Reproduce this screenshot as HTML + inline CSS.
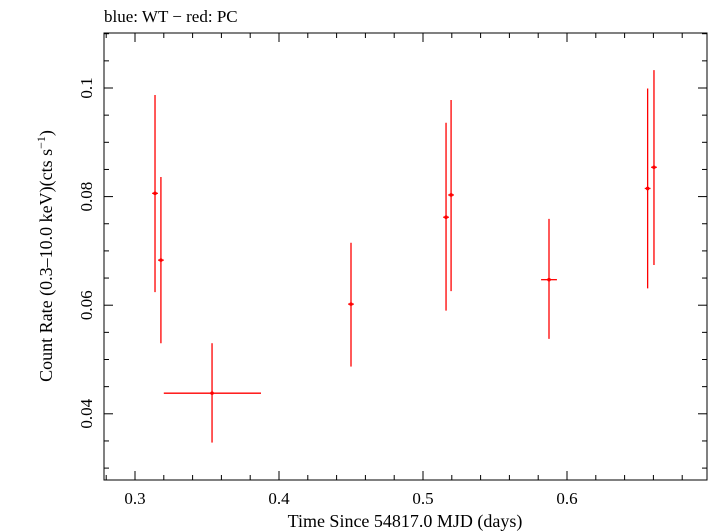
<!DOCTYPE html>
<html><head><meta charset="utf-8"><style>body{margin:0;background:#fff}svg{display:block}</style></head>
<body>
<svg id="c" width="709" height="532" xmlns="http://www.w3.org/2000/svg" font-family="Liberation Serif, serif"></svg>
<script>
const times=[0.3139,0.318,0.3535,0.45,0.516,0.5195,0.5875,0.656,0.6604];
const timeErrLo=[0.002,0.002,0.0335,0.002,0.002,0.002,0.0055,0.002,0.002];
const timeErrHi=[0.002,0.002,0.034,0.002,0.002,0.002,0.0055,0.002,0.002];
const rates=[0.0806,0.0683,0.0438,0.0602,0.0762,0.0803,0.0647,0.0815,0.0854];
const rateHi=[0.0987,0.0836,0.053,0.0715,0.0936,0.0978,0.0759,0.0999,0.1033];
const rateLo=[0.0624,0.053,0.0347,0.0487,0.059,0.0626,0.0538,0.0631,0.0674];
const xTicks=[0.3,0.4,0.5,0.6];
const yTicks=[0.04,0.06,0.08,0.1];
const xTickLabels=["0.3","0.4","0.5","0.6"];
const yTickLabels=["0.04","0.06","0.08","0.1"];
const L=104,R=707,T=33,B=480;
const X=v=>135+(v-0.3)*1440;
const Y=v=>88+(0.1-v)*5430;
const s=document.getElementById('c');const NS="http://www.w3.org/2000/svg";
function mk(t,a,p){const e=document.createElementNS(NS,t);for(const k in a)e.setAttribute(k,a[k]);(p||s).appendChild(e);return e;}
const fr=mk('rect',{x:L,y:T,width:R-L,height:B-T,fill:'none',stroke:'#000','stroke-width':1});

const ax=mk('g',{stroke:'#000','stroke-width':1});

for(let v=0.28;v<=0.7001;v+=0.02){const x=X(v);const big=Math.abs(Math.round(v*10)/10-v)<1e-6;const l=big?9:5;
mk('line',{x1:x,x2:x,y1:B,y2:B-l},ax);mk('line',{x1:x,x2:x,y1:T,y2:T+l},ax);}
for(let v=0.03;v<=0.1101;v+=0.005){const y=Y(v);if(y<T||y>B)continue;const big=Math.abs(Math.round(v*50)/50-v)<1e-6;const l=big?9:5;
mk('line',{x1:L,x2:L+l,y1:y,y2:y},ax);mk('line',{x1:R,x2:R-l,y1:y,y2:y},ax);}
xTicks.forEach((v,i)=>{const t=mk('text',{x:X(v),y:504,'font-size':17,'text-anchor':'middle'});t.textContent=xTickLabels[i];
});
yTicks.forEach((v,i)=>{const t=mk('text',{x:92,y:Y(v),'font-size':17,'text-anchor':'middle',transform:`rotate(-90 92 ${Y(v)})`});t.textContent=yTickLabels[i];
});
const g=mk('g',{stroke:'#f00','stroke-width':1.3,fill:'#f00'});

times.forEach((t,i)=>{const x=X(t),y=Y(rates[i]);
const p=mk('g',{},g);
mk('line',{x1:x,x2:x,y1:Y(rateHi[i]),y2:Y(rateLo[i])},p);
mk('line',{x1:X(t-timeErrLo[i]),x2:X(t+timeErrHi[i]),y1:y,y2:y},p);
mk('circle',{cx:x,cy:y,r:1.8,stroke:'none'},p);});
const xt=mk('text',{x:405,y:527,'font-size':18,'text-anchor':'middle'});xt.textContent='Time Since 54817.0 MJD (days)';

const yt=mk('text',{x:0,y:0,'font-size':18,'text-anchor':'middle',transform:'translate(52 256) rotate(-90)'});
yt.innerHTML='Count Rate (0.3\u201310.0 keV)(cts s<tspan font-size="12" dy="-7">\u22121</tspan><tspan dy="7">)</tspan>';

const tt=mk('text',{x:104,y:22,'font-size':17});tt.textContent='blue: WT \u2212 red: PC';

</script>
</body></html>
